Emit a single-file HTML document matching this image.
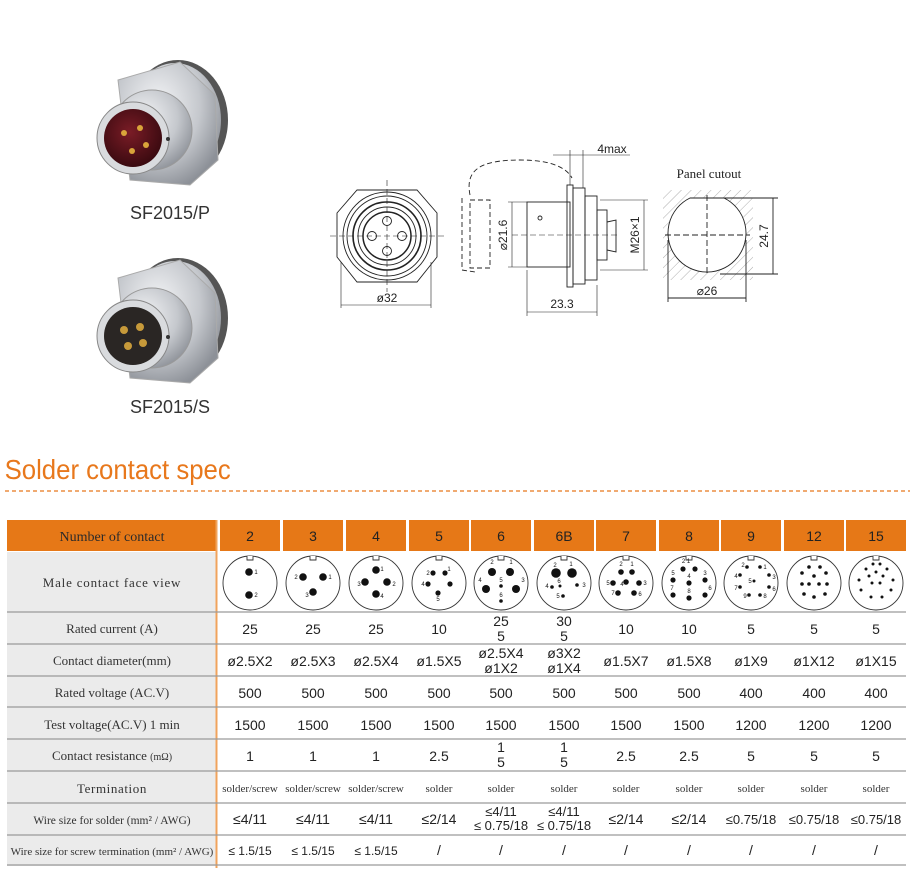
<!DOCTYPE html>
<html><head><meta charset="utf-8"><style>
html,body{margin:0;padding:0;background:#fff;}
svg{display:block}
.v{font-family:"Liberation Sans",sans-serif;font-size:14px;fill:#222;text-anchor:middle}
.l{font-family:"Liberation Serif",serif;font-size:13px;fill:#333;text-anchor:middle}
.h{font-family:"Liberation Sans",sans-serif;font-size:14px;fill:#222;text-anchor:middle}
.s{font-family:"Liberation Serif",serif;font-size:11px;fill:#333;text-anchor:middle}
.d{font-family:"Liberation Sans",sans-serif;font-size:12px;fill:#222;text-anchor:middle}
.n{font-family:"Liberation Sans",sans-serif;font-size:6px;fill:#111;text-anchor:middle}
.ln{stroke:#222;fill:none;stroke-width:0.9}
</style></head><body>
<svg width="910" height="890" viewBox="0 0 910 890" xmlns="http://www.w3.org/2000/svg">
<defs>
<radialGradient id="met" cx="40%" cy="35%" r="70%"><stop offset="0" stop-color="#f4f5f7"/><stop offset="0.6" stop-color="#c5c8cd"/><stop offset="1" stop-color="#8d9198"/></radialGradient>
<radialGradient id="red" cx="45%" cy="40%" r="60%"><stop offset="0" stop-color="#7a1c26"/><stop offset="1" stop-color="#3a0a10"/></radialGradient>
<pattern id="hatch" width="7" height="7" patternUnits="userSpaceOnUse" patternTransform="rotate(45)"><line x1="0" y1="0" x2="0" y2="7" stroke="#999" stroke-width="0.8"/></pattern>
</defs>

<!-- product P -->
<g>
<ellipse cx="178" cy="120" rx="50" ry="60" fill="#555"/>
<ellipse cx="175" cy="120" rx="46" ry="57" fill="url(#met)"/>
<polygon points="118,80 180,62 215,95 218,160 190,185 130,180" fill="url(#met)" stroke="#aaa"/>
<circle cx="152" cy="130" r="40" fill="url(#met)" stroke="#999"/>
<circle cx="133" cy="138" r="36" fill="#d9dbde" stroke="#888"/>
<circle cx="133" cy="138" r="29" fill="url(#red)"/>
<circle cx="124" cy="133" r="3" fill="#d9a43a"/><circle cx="140" cy="128" r="3" fill="#d9a43a"/>
<circle cx="132" cy="151" r="3" fill="#d9a43a"/><circle cx="146" cy="145" r="3" fill="#d9a43a"/>
<circle cx="168" cy="139" r="2" fill="#333"/>
</g>
<text x="170" y="219" style="font-family:'Liberation Sans',sans-serif;font-size:18px;fill:#333;text-anchor:middle">SF2015/P</text>
<!-- product S -->
<g>
<ellipse cx="178" cy="318" rx="50" ry="60" fill="#555"/>
<ellipse cx="175" cy="318" rx="46" ry="57" fill="url(#met)"/>
<polygon points="118,278 180,260 215,293 218,358 190,383 130,378" fill="url(#met)" stroke="#aaa"/>
<circle cx="152" cy="328" r="40" fill="url(#met)" stroke="#999"/>
<circle cx="133" cy="336" r="36" fill="#d9dbde" stroke="#888"/>
<circle cx="133" cy="336" r="29" fill="#2a2624"/>
<circle cx="124" cy="330" r="4" fill="#c79a3a"/><circle cx="140" cy="327" r="4" fill="#c79a3a"/>
<circle cx="128" cy="346" r="4" fill="#c79a3a"/><circle cx="143" cy="343" r="4" fill="#c79a3a"/>
<circle cx="168" cy="337" r="2" fill="#333"/>
</g>
<text x="170" y="413" style="font-family:'Liberation Sans',sans-serif;font-size:18px;fill:#333;text-anchor:middle">SF2015/S</text>

<!-- front view -->
<g class="ln">
<polygon points="357,190 417,190 437,213 437,257 417,282 357,282 337,257 337,213"/>
<circle cx="387" cy="236" r="44"/><circle cx="387" cy="236" r="40"/>
<circle cx="387" cy="236" r="34" stroke-width="1.6"/><circle cx="387" cy="236" r="29"/><circle cx="387" cy="236" r="24" stroke-width="1.5"/>
<circle cx="387" cy="221" r="4.5"/><circle cx="387" cy="251" r="4.5"/><circle cx="372" cy="236" r="4.5"/><circle cx="402" cy="236" r="4.5"/>
<line x1="330" y1="236" x2="444" y2="236" stroke-dasharray="6,3" stroke-width="0.6"/>
<line x1="387" y1="180" x2="387" y2="292" stroke-dasharray="6,3" stroke-width="0.6"/>
<line x1="341" y1="262" x2="341" y2="308" stroke-width="0.6"/><line x1="431" y1="262" x2="431" y2="308" stroke-width="0.6"/>
<line x1="341" y1="305" x2="431" y2="305" stroke-width="0.6"/>
</g>
<text x="387" y="302" class="d">ø32</text>

<!-- side view -->
<g class="ln">
<path d="M470,195 C465,170 480,160 520,160 C545,160 565,165 572,178" stroke-dasharray="5,3"/>
<path d="M462,198 L462,270 L475,272" stroke-dasharray="5,3"/>
<rect x="470" y="200" width="20" height="68" stroke-dasharray="5,3"/>
<rect x="527" y="202" width="43" height="65"/>
<circle cx="540" cy="218" r="2"/>
<rect x="567" y="185" width="6" height="102"/>
<rect x="573" y="188" width="12" height="96"/>
<rect x="585" y="196" width="12" height="84"/>
<rect x="597" y="210" width="10" height="50"/>
<path d="M607,222 L616,220 L616,252 L607,250"/>
<line x1="512" y1="235" x2="620" y2="235" stroke-dasharray="6,3" stroke-width="0.6"/>
<line x1="508" y1="202" x2="527" y2="202" stroke-width="0.6"/><line x1="508" y1="267" x2="527" y2="267" stroke-width="0.6"/>
<line x1="512" y1="202" x2="512" y2="267" stroke-width="0.6"/>
<line x1="600" y1="200" x2="648" y2="200" stroke-width="0.6"/><line x1="600" y1="270" x2="648" y2="270" stroke-width="0.6"/>
<line x1="644" y1="200" x2="644" y2="270" stroke-width="0.6"/>
<line x1="527" y1="270" x2="527" y2="316" stroke-width="0.6"/><line x1="597" y1="285" x2="597" y2="316" stroke-width="0.6"/>
<line x1="527" y1="312" x2="597" y2="312" stroke-width="0.6"/>
<line x1="570" y1="150" x2="570" y2="185" stroke-width="0.6"/><line x1="583" y1="150" x2="583" y2="188" stroke-width="0.6"/>
<line x1="553" y1="155" x2="630" y2="155" stroke-width="0.6"/>
</g>
<text x="612" y="153" class="d">4max</text>
<text x="507" y="235" class="d" transform="rotate(-90 507 235)">⌀21.6</text>
<text x="639" y="235" class="d" transform="rotate(-90 639 235)">M26×1</text>
<text x="562" y="308" class="d">23.3</text>

<!-- panel cutout -->
<text x="709" y="178" style="font-family:'Liberation Serif',serif;font-size:13px;fill:#222;text-anchor:middle">Panel cutout</text>
<rect x="663" y="190" width="90" height="90" fill="url(#hatch)"/>
<path d="M690,198 L724,198 A39,39 0 1 1 690,198 Z" fill="#fff" stroke="#222" stroke-width="0.9"/>
<g class="ln" stroke-width="0.6">
<line x1="665" y1="235" x2="750" y2="235" stroke-dasharray="6,3"/>
<line x1="707" y1="195" x2="707" y2="275" stroke-dasharray="6,3"/>
<line x1="720" y1="198" x2="778" y2="198"/><line x1="720" y1="274" x2="778" y2="274"/>
<line x1="773" y1="198" x2="773" y2="274"/>
<line x1="668" y1="240" x2="668" y2="302"/><line x1="746" y1="240" x2="746" y2="302"/>
<line x1="668" y1="298" x2="746" y2="298"/>
</g>
<text x="768" y="236" class="d" transform="rotate(-90 768 236)">24.7</text>
<text x="707" y="295" class="d">⌀26</text>

<!-- title -->
<text x="5" y="479" transform="scale(0.92,1)" style="font-family:'Liberation Sans',sans-serif;font-size:28px;fill:#e8781c">Solder contact spec</text>
<line x1="5" y1="491" x2="910" y2="491" stroke="#e8781c" stroke-width="1.2" stroke-dasharray="4,3"/>

<!-- table -->
<rect x="7" y="552" width="209" height="314" fill="#ebebeb"/>
<rect x="7" y="520" width="209" height="31" fill="#e67817"/>
<g fill="#e67817">
<rect x="220" y="520" width="60" height="31"/><rect x="283" y="520" width="60" height="31"/><rect x="346" y="520" width="60" height="31"/>
<rect x="409" y="520" width="60" height="31"/><rect x="471" y="520" width="60" height="31"/><rect x="534" y="520" width="60" height="31"/>
<rect x="596" y="520" width="60" height="31"/><rect x="659" y="520" width="60" height="31"/><rect x="721" y="520" width="60" height="31"/>
<rect x="784" y="520" width="60" height="31"/><rect x="846" y="520" width="60" height="31"/>
</g>
<line x1="216.5" y1="520" x2="216.5" y2="868" stroke="#f0a35c" stroke-width="2"/>
<g stroke="#9a9a9a" stroke-width="1.3">
<line x1="7" y1="612" x2="906" y2="612"/><line x1="7" y1="644" x2="906" y2="644"/><line x1="7" y1="676" x2="906" y2="676"/>
<line x1="7" y1="707" x2="906" y2="707"/><line x1="7" y1="739" x2="906" y2="739"/><line x1="7" y1="771" x2="906" y2="771"/>
<line x1="7" y1="803" x2="906" y2="803"/><line x1="7" y1="835" x2="906" y2="835"/><line x1="7" y1="865" x2="906" y2="865"/>
</g>
<g class="h">
<text x="250" y="541">2</text><text x="313" y="541">3</text><text x="376" y="541">4</text><text x="439" y="541">5</text>
<text x="501" y="541">6</text><text x="564" y="541">6B</text><text x="626" y="541">7</text><text x="689" y="541">8</text>
<text x="751" y="541">9</text><text x="814" y="541">12</text><text x="876" y="541">15</text>
</g>
<g class="l">
<text x="112" y="541" style="font-size:14px;fill:#2a2a2a">Number of contact</text>
<text x="112" y="587" style="letter-spacing:0.8px">Male  contact  face  view</text>
<text x="112" y="633">Rated current  (A)</text>
<text x="112" y="665">Contact diameter(mm)</text>
<text x="112" y="697">Rated voltage (AC.V)</text>
<text x="112" y="729">Test voltage(AC.V) 1 min</text>
<text x="112" y="760">Contact resistance <tspan style="font-size:10px">(mΩ)</tspan></text>
<text x="112" y="793" style="letter-spacing:0.6px">Termination</text>
<text x="112" y="824" style="font-size:11.5px">Wire size for solder (mm² / AWG)</text>
<text x="112" y="855" style="font-size:11px">Wire size for screw termination (mm² / AWG)</text>
</g>

<!-- face circles -->
<g fill="#fff" stroke="#333" stroke-width="0.9">
<circle cx="250" cy="583" r="27"/><circle cx="313" cy="583" r="27"/><circle cx="376" cy="583" r="27"/><circle cx="439" cy="583" r="27"/>
<circle cx="501" cy="583" r="27"/><circle cx="564" cy="583" r="27"/><circle cx="626" cy="583" r="27"/><circle cx="689" cy="583" r="27"/>
<circle cx="751" cy="583" r="27"/><circle cx="814" cy="583" r="27"/><circle cx="876" cy="583" r="27"/>
</g>
<g fill="#fff" stroke="#333" stroke-width="0.9">
<path d="M247,556 v4 h6 v-4"/><path d="M310,556 v4 h6 v-4"/><path d="M373,556 v4 h6 v-4"/><path d="M436,556 v4 h6 v-4"/>
<path d="M498,556 v4 h6 v-4"/><path d="M561,556 v4 h6 v-4"/><path d="M623,556 v4 h6 v-4"/><path d="M686,556 v4 h6 v-4"/>
<path d="M748,556 v4 h6 v-4"/><path d="M811,556 v4 h6 v-4"/><path d="M873,556 v4 h6 v-4"/>
</g>
<g fill="#111">
<!-- 2 -->
<circle cx="249" cy="572" r="3.8"/><circle cx="249" cy="595" r="3.8"/>
<!-- 3 -->
<circle cx="303" cy="577" r="3.8"/><circle cx="323" cy="577" r="3.8"/><circle cx="313" cy="592" r="3.8"/>
<!-- 4 -->
<circle cx="376" cy="570" r="3.8"/><circle cx="365" cy="582" r="3.8"/><circle cx="387" cy="582" r="3.8"/><circle cx="376" cy="594" r="3.8"/>
<!-- 5 -->
<circle cx="433" cy="573" r="2.6"/><circle cx="445" cy="573" r="2.6"/><circle cx="428" cy="584" r="2.6"/><circle cx="450" cy="584" r="2.6"/><circle cx="438" cy="593" r="2.6"/>
<!-- 6 -->
<circle cx="492" cy="572" r="4"/><circle cx="510" cy="572" r="4"/><circle cx="486" cy="589" r="4"/><circle cx="516" cy="589" r="4"/><circle cx="501" cy="586" r="1.8"/><circle cx="501" cy="601" r="1.8"/>
<!-- 6B -->
<circle cx="556" cy="573" r="4.8"/><circle cx="572" cy="573" r="4.8"/><circle cx="552" cy="587" r="1.8"/><circle cx="560" cy="586" r="1.5"/><circle cx="577" cy="585" r="1.8"/><circle cx="563" cy="596" r="1.8"/>
<!-- 7 -->
<circle cx="621" cy="572" r="2.8"/><circle cx="632" cy="572" r="2.8"/><circle cx="613" cy="583" r="2.8"/><circle cx="626" cy="582" r="2.8"/><circle cx="639" cy="583" r="2.8"/><circle cx="618" cy="593" r="2.8"/><circle cx="634" cy="593" r="2.8"/>
<!-- 8 -->
<circle cx="683" cy="569" r="2.6"/><circle cx="695" cy="569" r="2.6"/><circle cx="673" cy="580" r="2.6"/><circle cx="705" cy="580" r="2.6"/><circle cx="689" cy="583" r="2.6"/><circle cx="673" cy="595" r="2.6"/><circle cx="705" cy="595" r="2.6"/><circle cx="689" cy="598" r="2.6"/>
<!-- 9 -->
<circle cx="747" cy="567" r="1.8"/><circle cx="760" cy="567" r="1.8"/><circle cx="740" cy="575" r="1.8"/><circle cx="769" cy="575" r="1.8"/><circle cx="754" cy="581" r="1.5"/><circle cx="740" cy="587" r="1.8"/><circle cx="769" cy="587" r="1.8"/><circle cx="749" cy="595" r="1.8"/><circle cx="760" cy="595" r="1.8"/>
<!-- 12 -->
<circle cx="809" cy="567" r="1.8"/><circle cx="820" cy="567" r="1.8"/><circle cx="802" cy="573" r="1.8"/><circle cx="826" cy="573" r="1.8"/><circle cx="814" cy="576" r="1.8"/><circle cx="802" cy="584" r="1.8"/><circle cx="809" cy="584" r="1.8"/><circle cx="819" cy="584" r="1.8"/><circle cx="827" cy="584" r="1.8"/><circle cx="804" cy="594" r="1.8"/><circle cx="814" cy="597" r="1.8"/><circle cx="825" cy="594" r="1.8"/>
<!-- 15 -->
<circle cx="873" cy="564" r="1.5"/><circle cx="880" cy="564" r="1.5"/><circle cx="866" cy="569" r="1.5"/><circle cx="887" cy="569" r="1.5"/><circle cx="876" cy="572" r="1.5"/><circle cx="869" cy="576" r="1.5"/><circle cx="883" cy="576" r="1.5"/><circle cx="859" cy="580" r="1.5"/><circle cx="893" cy="580" r="1.5"/><circle cx="872" cy="583" r="1.5"/><circle cx="880" cy="583" r="1.5"/><circle cx="861" cy="590" r="1.5"/><circle cx="891" cy="590" r="1.5"/><circle cx="871" cy="597" r="1.5"/><circle cx="882" cy="597" r="1.5"/>
</g>
<g class="n">
<text x="256" y="574">1</text><text x="256" y="597">2</text>
<text x="296" y="579">2</text><text x="330" y="579">1</text><text x="307" y="597">3</text>
<text x="382" y="571">1</text><text x="359" y="586">3</text><text x="394" y="586">2</text><text x="382" y="598">4</text>
<text x="428" y="575">2</text><text x="449" y="571">1</text><text x="423" y="586">4</text><text x="438" y="601">5</text>
<text x="492" y="564">2</text><text x="511" y="564">1</text><text x="480" y="582">4</text><text x="523" y="582">3</text><text x="501" y="582">5</text><text x="501" y="597">6</text>
<text x="555" y="567">2</text><text x="571" y="566">1</text><text x="547" y="588">4</text><text x="559" y="583">6</text><text x="584" y="587">3</text><text x="558" y="598">5</text>
<text x="621" y="566">2</text><text x="632" y="566">1</text><text x="608" y="585">5</text><text x="622" y="586">4</text><text x="645" y="585">3</text><text x="613" y="595">7</text><text x="640" y="596">6</text>
<text x="686" y="563">2 1</text><text x="673" y="575">5</text><text x="705" y="575">3</text><text x="689" y="578">4</text><text x="672" y="590">7</text><text x="710" y="590">6</text><text x="689" y="593">8</text>
<text x="743" y="567">2</text><text x="765" y="569">1</text><text x="736" y="578">4</text><text x="774" y="579">3</text><text x="750" y="583">5</text><text x="736" y="590">7</text><text x="774" y="591">6</text><text x="745" y="598">9</text><text x="765" y="598">8</text>
</g>

<!-- values -->
<g class="v">
<text x="250" y="634">25</text><text x="313" y="634">25</text><text x="376" y="634">25</text><text x="439" y="634">10</text>
<text x="501" y="626">25</text><text x="501" y="641">5</text><text x="564" y="626">30</text><text x="564" y="641">5</text>
<text x="626" y="634">10</text><text x="689" y="634">10</text><text x="751" y="634">5</text><text x="814" y="634">5</text><text x="876" y="634">5</text>

<text x="250" y="666">ø2.5X2</text><text x="313" y="666">ø2.5X3</text><text x="376" y="666">ø2.5X4</text><text x="439" y="666">ø1.5X5</text>
<text x="501" y="658">ø2.5X4</text><text x="501" y="673">ø1X2</text><text x="564" y="658">ø3X2</text><text x="564" y="673">ø1X4</text>
<text x="626" y="666">ø1.5X7</text><text x="689" y="666">ø1.5X8</text><text x="751" y="666">ø1X9</text><text x="814" y="666">ø1X12</text><text x="876" y="666">ø1X15</text>

<text x="250" y="698">500</text><text x="313" y="698">500</text><text x="376" y="698">500</text><text x="439" y="698">500</text>
<text x="501" y="698">500</text><text x="564" y="698">500</text><text x="626" y="698">500</text><text x="689" y="698">500</text>
<text x="751" y="698">400</text><text x="814" y="698">400</text><text x="876" y="698">400</text>

<text x="250" y="730">1500</text><text x="313" y="730">1500</text><text x="376" y="730">1500</text><text x="439" y="730">1500</text>
<text x="501" y="730">1500</text><text x="564" y="730">1500</text><text x="626" y="730">1500</text><text x="689" y="730">1500</text>
<text x="751" y="730">1200</text><text x="814" y="730">1200</text><text x="876" y="730">1200</text>

<text x="250" y="761">1</text><text x="313" y="761">1</text><text x="376" y="761">1</text><text x="439" y="761">2.5</text>
<text x="501" y="752">1</text><text x="501" y="767">5</text><text x="564" y="752">1</text><text x="564" y="767">5</text>
<text x="626" y="761">2.5</text><text x="689" y="761">2.5</text><text x="751" y="761">5</text><text x="814" y="761">5</text><text x="876" y="761">5</text>

<text x="250" y="824">≤4/11</text><text x="313" y="824">≤4/11</text><text x="376" y="824">≤4/11</text><text x="439" y="824">≤2/14</text>
<text x="501" y="816" style="font-size:13px">≤4/11</text><text x="501" y="830" style="font-size:13px">≤ 0.75/18</text>
<text x="564" y="816" style="font-size:13px">≤4/11</text><text x="564" y="830" style="font-size:13px">≤ 0.75/18</text>
<text x="626" y="824">≤2/14</text><text x="689" y="824">≤2/14</text>
<text x="751" y="824" style="font-size:13px">≤0.75/18</text><text x="814" y="824" style="font-size:13px">≤0.75/18</text><text x="876" y="824" style="font-size:13px">≤0.75/18</text>

<text x="250" y="855" style="font-size:12px">≤ 1.5/15</text><text x="313" y="855" style="font-size:12px">≤ 1.5/15</text><text x="376" y="855" style="font-size:12px">≤ 1.5/15</text>
<text x="439" y="855">/</text><text x="501" y="855">/</text><text x="564" y="855">/</text><text x="626" y="855">/</text><text x="689" y="855">/</text><text x="751" y="855">/</text><text x="814" y="855">/</text><text x="876" y="855">/</text>
</g>
<g class="s">
<text x="250" y="792">solder/screw</text><text x="313" y="792">solder/screw</text><text x="376" y="792">solder/screw</text>
<text x="439" y="792">solder</text><text x="501" y="792">solder</text><text x="564" y="792">solder</text><text x="626" y="792">solder</text>
<text x="689" y="792">solder</text><text x="751" y="792">solder</text><text x="814" y="792">solder</text><text x="876" y="792">solder</text>
</g>
</svg>
</body></html>
